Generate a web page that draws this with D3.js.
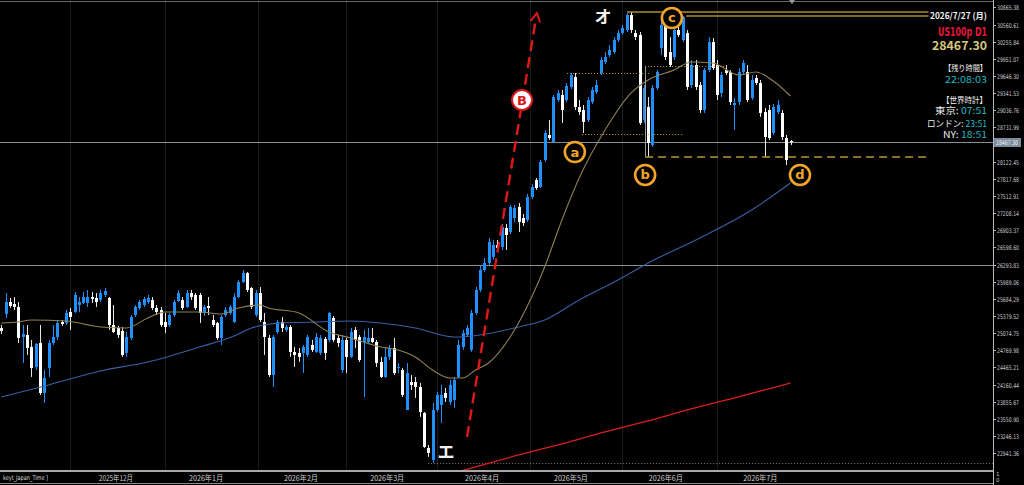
<!DOCTYPE html>
<html>
<head>
<meta charset="utf-8">
<script src="https://cdn.jsdelivr.net/npm/d3@7"></script>
<style>
  body { margin: 0; background: #000; overflow: hidden; }
  svg { display: block; }
</style>
</head>
<body>
<div id="chart"></div>
<script>
// daily OHLC, oldest first (US100p D1)
const opens = [25166,25415,25628,25593,25540,25006,25042,24828,24473,24899,
  24010,24455,24899,25006,25273,25255,25451,25451,25575,25611,
  25611,25717,25700,25664,25753,25700,25219,25166,25113,24722,
  24988,25397,25522,25575,25628,25664,25522,25486,25273,25219,
  25397,25646,25664,25540,25788,25753,25753,25433,25557,25308,
  25255,24988,25397,25433,25273,25717,25984,26144,25877,25397,
  25788,25273,24988,24330,25095,25273,25131,25184,24739,24722,
  24722,24686,24864,24739,24722,24971,24953,25344,24988,24419,
  24953,24651,25131,25006,24917,24917,24988,24917,24562,24295,
  24651,24811,24455,24419,23708,24206,24206,24117,23655,23033,
  22819,23708,23797,24010,23850,23886,24295,24828,25042,24775,
  25433,25842,26197,26322,26429,26642,26606,26944,26873,27122,
  27318,27122,27086,27495,27798,27673,28153,28598,28473,29220,
  29309,29220,29451,29629,29096,29042,28864,29184,29362,29700,
  29896,30020,30073,30287,30411,30465,30731,30411,30376,28864,
  29096,28420,29433,30145,30642,30073,29985,30465,30287,30411,
  29487,29842,29487,29042,29753,30251,29842,29344,29753,29718,
  29131,29184,29718,29718,29256,29611,29522,29007,29042,28633,
  29007,28989,28544,28491];
const highs = [25219,25788,25700,25717,25628,25219,25219,24953,24899,25219,
  24419,24953,25219,25308,25308,25486,25522,25806,25717,25806,
  25842,25806,25788,25842,25877,25717,25575,25202,25184,25095,
  25397,25575,25664,25717,25753,25717,25575,25540,25433,25433,
  25664,25842,25717,25842,25842,25788,25788,25575,25717,25397,
  25273,25397,25540,25575,25788,26020,26197,26162,25895,25842,
  25895,25433,25042,25042,25308,25362,25219,25219,24828,24811,
  24864,25042,24953,25077,25042,25006,25451,25380,25042,25042,
  24988,25166,25184,25042,25131,25166,25166,24953,24651,24828,
  24864,24988,24544,24455,24544,24330,24295,24188,23673,23086,
  23833,24028,24153,24099,24242,24295,24953,25131,25219,25486,
  25895,26269,26411,26766,26731,26731,27015,27015,27353,27353,
  27389,27193,27549,27726,27833,28153,28687,28864,29309,29398,
  29398,29522,29700,29700,29220,29131,29273,29451,29576,29985,
  30073,30198,30340,30465,30553,30767,30785,30465,30429,29487,
  29273,29487,29753,30731,30696,30340,30518,30518,30714,30465,
  29931,29931,29540,29789,30340,30322,29931,29718,29842,29753,
  29256,29789,29931,29842,29664,29664,29576,29078,29131,29149,
  29220,29042,28598,28509];
const lows = [25059,25344,25522,25486,24899,24544,24686,24295,24419,23975,
  23833,24295,24864,24953,25202,25219,25131,25433,25451,25593,
  25540,25611,25540,25628,25717,25131,25077,24988,24651,24651,
  24953,25362,25486,25540,25593,25486,25397,25184,25077,25184,
  25362,25628,25486,25522,25664,25486,25255,25380,25397,25184,
  24953,24864,25362,25397,25255,25700,25966,25806,25504,25362,
  25273,24686,24295,24117,25059,25095,25095,24651,24473,24562,
  24366,24651,24739,24722,24686,24597,24917,24917,24828,24366,
  24366,24633,24811,24562,23939,24899,24899,24473,24277,24277,
  24597,24330,24366,23939,23708,24064,23922,23584,23033,22873,
  22766,23673,23477,23850,23797,23744,24277,24775,25006,24739,
  25397,25806,26162,26286,26375,26517,26553,26553,26837,27051,
  26873,26980,27051,27460,27620,27655,28118,28509,28455,29184,
  28811,29184,29416,29042,28953,28633,28829,29149,29327,29664,
  29860,29985,30038,30251,30376,30429,30411,30287,28775,28811,
  28207,28384,29398,30020,29931,29807,29931,30340,30251,29398,
  29433,29398,28989,28989,29718,29753,29220,29273,29664,29131,
  28687,29131,29682,29184,29220,29487,28918,28207,28509,28598,
  28971,28509,28064,28420];
const closes = [25113,25628,25557,25540,24988,25059,24811,24455,24882,24010,
  24277,24899,25006,25255,25237,25433,25362,25753,25628,25717,
  25717,25682,25628,25788,25824,25219,25095,25042,24686,25006,
  25362,25540,25628,25682,25700,25522,25451,25219,25184,25397,
  25628,25788,25522,25788,25717,25522,25433,25540,25522,25219,
  24988,25362,25486,25540,25717,25984,26144,25842,25540,25788,
  25308,25006,24330,25006,25273,25166,25184,24739,24686,24651,
  24828,25006,24775,25006,24988,24722,25433,24953,24899,24953,
  24651,25095,24953,24597,25006,24988,24917,24544,24295,24651,
  24811,24366,24473,23975,24366,24153,24117,23673,23050,22944,
  23708,23975,23975,23922,24153,24242,24864,25077,25166,25433,
  25842,26197,26322,26695,26642,26589,26962,26820,27318,27300,
  27051,27033,27495,27673,27655,28118,28633,28544,29273,29344,
  29042,29469,29664,29096,29007,28829,29220,29398,29487,29931,
  29985,30109,30287,30411,30500,30731,30465,30340,28811,29433,
  28455,29433,29718,30553,29985,29842,30465,30376,30696,29451,
  29842,29451,29042,29753,30251,29789,29309,29664,29700,29184,
  29167,29718,29878,29220,29576,29522,28989,28562,28544,29096,
  29131,28562,28153,28467.30];

// moving averages (bar index, price)
const maShortBars = [0,4,7,15,23,29,34,38,46,51,55,60,62,69,76,81,88,92,96,100,104,107,110,113,118,123,126,130,134,140,146,150,156,160,165,171,175,179,183];
const maShort = [25255,25273,25308,25290,25184,25166,25344,25451,25451,25415,25522,25575,25522,25433,25095,24988,24828,24775,24651,24419,24277,24277,24420,24544,25006,25717,26251,27086,27833,28687,29344,29576,29753,29896,29878,29665,29718,29558,29291];
const maLongBars = [0,11,23,34,46,54,58,65,73,81,88,96,105,111,120,126,134,143,150,162,174,183];
const maLong = [23939,24153,24402,24562,24828,25024,25166,25255,25273,25291,25255,25166,25006,25042,25184,25308,25664,26020,26322,26767,27264,27744];
const ma200Bars = [104,110,120,130,140,150,160,170,183];
const ma200 = [22570,22695,22908,23104,23317,23513,23726,23922,24188];

// axes
const priceTicks = [30865.38,30560.61,30255.84,29951.07,29646.30,29341.53,29036.76,28731.99,
  28122.45,27817.68,27512.91,27208.14,26903.37,26598.60,26293.83,25989.06,25684.29,25379.52,
  25074.75,24769.98,24465.21,24160.44,23855.67,23550.90,23246.13,22941.36];
const monthLabels = ["2025年12月","2026年1月","2026年2月","2026年3月","2026年4月","2026年5月","2026年6月","2026年7月"];
const monthLabelBars = [26.6,47.5,69.5,89.5,111.5,132.1,154.1,176];
const gridBars = [16,38,59.5,80,101,122.6,144,166];

// drawn objects
const lastPrice = 28467.30;
const hLevel = 26280;
const lowLevel = 22766;
const goldLevels = [{bar: 145.1, price: 30785}, {bar: 158.8, price: 30714}];
const dottedLevels = [{b0: 131.2, b1: 150.5, price: 29700}, {b0: 134.7, b1: 158, price: 28615}, {b0: 149.3, b1: 168.5, price: 29825}];
const dashedLevel = {b0: 149.3, b1: 215, price: 28207};
const trendB = [[108, 23228], [124, 30678]];
const circleMarks = [{t: "a", bar: 133, price: 28295}, {t: "b", bar: 149.3, price: 27887},
                     {t: "c", bar: 155.5, price: 30678}, {t: "d", bar: 185.2, price: 27887}];
const kanaMarks = [{t: "オ", bar: 139.5, price: 30696}, {t: "エ", bar: 103.1, price: 22962}];
const badgeB = {bar: 120.75, price: 29220};

const W = 1024, H = 485;
const plotRight = 993, plotBottom = 470;

const x = d3.scaleLinear().domain([0, 183]).range([1.2, 790.5]);
const y = d3.scaleLinear().domain([22765, 30998]).range([463, 0]);

const svg = d3.select("#chart").append("svg")
    .attr("width", W).attr("height", H)
    .style("background", "#000");

svg.append("defs").append("clipPath").attr("id", "plot")
    .append("rect").attr("width", plotRight).attr("height", plotBottom);

const plot = svg.append("g").attr("clip-path", "url(#plot)");

// faint vertical grid
plot.selectAll(".grid").data(gridBars).enter().append("line")
    .attr("x1", d => Math.round(x(d)) + 0.5).attr("x2", d => Math.round(x(d)) + 0.5)
    .attr("y1", 0).attr("y2", plotBottom)
    .attr("stroke", "#1c1c1c").attr("stroke-width", 1);

// top border + grey horizontal lines
plot.append("line").attr("x1", 0).attr("x2", plotRight).attr("y1", 1.5).attr("y2", 1.5)
    .attr("stroke", "#6a6a6a");
[lastPrice, hLevel].forEach(p => {
    plot.append("line")
        .attr("x1", 0).attr("x2", plotRight)
        .attr("y1", Math.round(y(p)) + 0.5).attr("y2", Math.round(y(p)) + 0.5)
        .attr("stroke", "#8a8f96").attr("stroke-width", 1);
});
plot.append("line")
    .attr("x1", x(99)).attr("x2", plotRight)
    .attr("y1", Math.round(y(lowLevel)) + 0.5).attr("y2", Math.round(y(lowLevel)) + 0.5)
    .attr("stroke", "#7a7a7a").attr("stroke-dasharray", "1,2");

// candles
const bars = d3.range(opens.length).map(i => ({
    i: i, o: opens[i], h: highs[i], l: lows[i], c: closes[i], up: closes[i] >= opens[i]
}));
const candle = plot.selectAll(".candle").data(bars).enter().append("g");
candle.append("line")
    .attr("x1", d => Math.round(x(d.i)) + 0.5).attr("x2", d => Math.round(x(d.i)) + 0.5)
    .attr("y1", d => y(d.h)).attr("y2", d => y(d.l))
    .attr("stroke", d => d.up ? "#1e90ff" : "#e6e6e6").attr("stroke-width", 1);
candle.append("rect")
    .attr("x", d => Math.round(x(d.i)) - 1)
    .attr("width", 3)
    .attr("y", d => y(Math.max(d.o, d.c)))
    .attr("height", d => Math.max(1, Math.abs(y(d.o) - y(d.c))))
    .attr("fill", d => d.up ? "#1e90ff" : "#ffffff");

// moving averages
const maLine = d3.line().x(d => x(d[0])).y(d => y(d[1])).curve(d3.curveMonotoneX);
plot.append("path").datum(maLongBars.map((b, k) => [b, maLong[k]]))
    .attr("d", maLine).attr("fill", "none").attr("stroke", "#3b5ea6").attr("stroke-width", 1.1);
plot.append("path").datum(maShortBars.map((b, k) => [b, maShort[k]]))
    .attr("d", maLine).attr("fill", "none").attr("stroke", "#8e8152").attr("stroke-width", 1.1);
plot.append("path").datum(ma200Bars.map((b, k) => [b, ma200[k]]))
    .attr("d", maLine).attr("fill", "none").attr("stroke", "#d42020").attr("stroke-width", 1.3);

// gold horizontal levels
goldLevels.forEach(g => {
    plot.append("line")
        .attr("x1", x(g.bar)).attr("x2", x(215))
        .attr("y1", y(g.price)).attr("y2", y(g.price))
        .attr("stroke", "#a8902e").attr("stroke-width", 1.5);
});
dottedLevels.forEach(g => {
    plot.append("line")
        .attr("x1", x(g.b0)).attr("x2", x(g.b1))
        .attr("y1", Math.round(y(g.price)) + 0.5).attr("y2", Math.round(y(g.price)) + 0.5)
        .attr("stroke", "#c89a2a").attr("stroke-width", 1).attr("stroke-dasharray", "1,2");
});
plot.append("line")
    .attr("x1", x(dashedLevel.b0)).attr("x2", x(dashedLevel.b1))
    .attr("y1", y(dashedLevel.price)).attr("y2", y(dashedLevel.price))
    .attr("stroke", "#b8963a").attr("stroke-width", 1.5).attr("stroke-dasharray", "8,5");
plot.append("line")
    .attr("x1", Math.round(x(149.3)) + 0.5).attr("x2", Math.round(x(149.3)) + 0.5)
    .attr("y1", y(29825)).attr("y2", y(dashedLevel.price))
    .attr("stroke", "#9a9a9a").attr("stroke-width", 1);

// red dashed trend with arrow
const p0 = [x(trendB[0][0]), y(trendB[0][1])], p1 = [x(trendB[1][0]), y(trendB[1][1])];
plot.append("line")
    .attr("x1", p0[0]).attr("y1", p0[1]).attr("x2", p1[0]).attr("y2", p1[1])
    .attr("stroke", "#e01818").attr("stroke-width", 2.4).attr("stroke-dasharray", "11,6");
const ang = Math.atan2(p1[1] - p0[1], p1[0] - p0[0]);
const tip = [p1[0] + Math.cos(ang) * 5, p1[1] + Math.sin(ang) * 5];
const arm = a => [tip[0] - Math.cos(ang + a) * 10, tip[1] - Math.sin(ang + a) * 10];
plot.append("path")
    .attr("d", d3.line()([arm(0.5), tip, arm(-0.5)]))
    .attr("fill", "none").attr("stroke", "#e01818").attr("stroke-width", 2);

// badge B
plot.append("circle").attr("cx", x(badgeB.bar)).attr("cy", y(badgeB.price)).attr("r", 10)
    .attr("fill", "#ffffff").attr("stroke", "#d81818").attr("stroke-width", 2);
plot.append("text").attr("x", x(badgeB.bar)).attr("y", y(badgeB.price) + 5)
    .attr("text-anchor", "middle").attr("font-family", "DejaVu Sans, sans-serif")
    .attr("font-weight", "bold").attr("font-size", 13).attr("fill", "#d81818").text("B");

// orange circled letters
const cm = plot.selectAll(".cm").data(circleMarks).enter().append("g")
    .attr("transform", d => "translate(" + x(d.bar) + "," + y(d.price) + ")");
cm.append("circle").attr("r", 10).attr("fill", "#000").attr("stroke", "#f2a526").attr("stroke-width", 2.6);
cm.append("text").attr("y", 4.5).attr("text-anchor", "middle")
    .attr("font-family", "DejaVu Sans, sans-serif").attr("font-weight", "bold")
    .attr("font-size", 13).attr("fill", "#f2a526").text(d => d.t);

// katakana wave labels
plot.selectAll(".kana").data(kanaMarks).enter().append("text")
    .attr("x", d => x(d.bar)).attr("y", d => y(d.price) + 6)
    .attr("text-anchor", "middle").attr("font-family", "Noto Sans CJK JP")
    .attr("font-weight", "bold").attr("font-size", 17).attr("fill", "#f0f0f0")
    .text(d => d.t);

// small shift marker at top
svg.append("path").attr("d", "M789,0 L795,0 L792,4 Z").attr("fill", "#9a9a9a");

// right price axis
svg.append("line").attr("x1", plotRight + 0.5).attr("x2", plotRight + 0.5).attr("y1", 0).attr("y2", H)
    .attr("stroke", "#b8b8b8");
const ticks = svg.selectAll(".tick").data(priceTicks).enter().append("g")
    .attr("transform", d => "translate(" + (plotRight + 1) + "," + (Math.round(y(d)) + 0.5) + ")");
ticks.append("line").attr("x1", 0).attr("x2", 2).attr("stroke", "#b8b8b8");
ticks.append("text").attr("x", 3).attr("y", 2.5)
    .attr("font-family", "DejaVu Sans Condensed, DejaVu Sans").attr("font-size", 6.5)
    .attr("textLength", 22).attr("lengthAdjust", "spacingAndGlyphs")
    .attr("fill", "#c8c8c8").text(d => d.toFixed(2));
svg.append("rect").attr("x", plotRight + 1).attr("y", Math.round(y(lastPrice)) - 4)
    .attr("width", 27).attr("height", 9).attr("fill", "#7d8c9c");
svg.append("text").attr("x", plotRight + 3).attr("y", Math.round(y(lastPrice)) + 3)
    .attr("font-family", "DejaVu Sans Condensed, DejaVu Sans").attr("font-size", 6.5)
    .attr("textLength", 22).attr("lengthAdjust", "spacingAndGlyphs")
    .attr("fill", "#e8eef4").text(lastPrice.toFixed(2));

// bottom strip
svg.append("line").attr("x1", 0).attr("x2", plotRight).attr("y1", 471).attr("y2", 471)
    .attr("stroke", "#a8a8a8").attr("stroke-width", 2);
svg.append("line").attr("x1", 0).attr("x2", plotRight).attr("y1", 483.5).attr("y2", 483.5)
    .attr("stroke", "#8a8a8a").attr("stroke-width", 1);
svg.append("text").attr("x", 3).attr("y", 480)
    .attr("font-family", "DejaVu Sans Condensed, DejaVu Sans").attr("font-size", 6.5)
    .attr("textLength", 45).attr("lengthAdjust", "spacingAndGlyphs")
    .attr("fill", "#d8d8d8").text("keyt_Japan_Time ]");
svg.selectAll(".month").data(monthLabels).enter().append("text")
    .attr("x", (d, k) => x(monthLabelBars[k])).attr("y", 480.5)
    .attr("text-anchor", "middle").attr("font-family", "Noto Sans CJK JP").attr("font-size", 7.5)
    .attr("textLength", 34).attr("lengthAdjust", "spacingAndGlyphs")
    .attr("fill", "#cfcfcf").text(d => d);
svg.append("text").attr("x", 996).attr("y", 476).attr("font-family", "DejaVu Sans").attr("font-size", 5.5)
    .attr("fill", "#c8c8c8").text("1");
svg.append("text").attr("x", 996).attr("y", 482).attr("font-family", "DejaVu Sans").attr("font-size", 5.5)
    .attr("fill", "#c8c8c8").text("0");

// info panel (top right)
const cyan = "#22b8c2";
const info = [
    {y: 19, size: 8.5, w: 57, bold: true, parts: [["2026/7/27 (月)", "#f0f0f0"]]},
    {y: 35.5, size: 12.5, w: 49, bold: true, cond: true, parts: [["US100p D1", "#e8163c"]]},
    {y: 50, size: 12, w: 55, bold: true, parts: [["28467.30", "#d8c87a"]]},
    {y: 70.5, size: 8.5, w: 43, parts: [["【残り時間】", "#f0f0f0"]]},
    {y: 82.5, size: 9.5, w: 42, parts: [["22:08:03", cyan]]},
    {y: 102.5, size: 8.5, w: 45, parts: [["【世界時計】", "#f0f0f0"]]},
    {y: 114, size: 9, w: 52, parts: [["東京: ", "#f0f0f0"], ["07:51", cyan]]},
    {y: 126.5, size: 9, w: 60, parts: [["ロンドン: ", "#f0f0f0"], ["23:51", cyan]]},
    {y: 138, size: 9, w: 44, parts: [["NY: ", "#f0f0f0"], ["18:51", cyan]]}
];
info.forEach(r => {
    const t = svg.append("text").attr("x", 987).attr("y", r.y)
        .attr("text-anchor", "end")
        .attr("font-family", r.cond ? "DejaVu Sans Condensed, DejaVu Sans" : "Noto Sans CJK JP")
        .attr("font-weight", r.bold ? "bold" : "normal")
        .attr("font-size", r.size)
        .attr("textLength", r.w).attr("lengthAdjust", "spacingAndGlyphs");
    r.parts.forEach(p => t.append("tspan").attr("fill", p[1]).text(p[0]));
});
</script>
</body>
</html>
